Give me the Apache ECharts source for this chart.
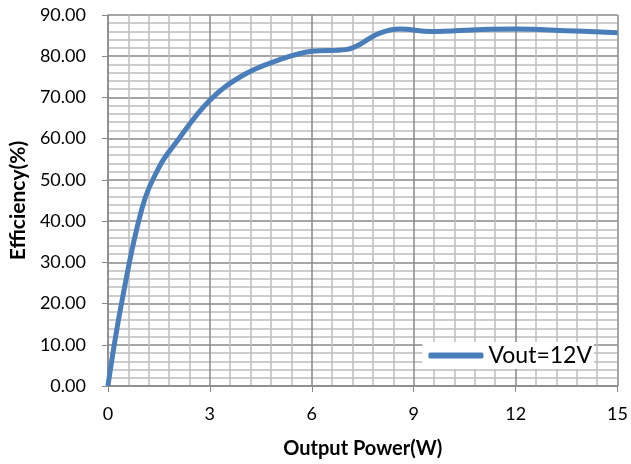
<!DOCTYPE html>
<html><head><meta charset="utf-8">
<script src="https://cdn.jsdelivr.net/npm/echarts@6/dist/echarts.min.js"></script>
<style>html,body{margin:0;padding:0;background:#fff}#c{width:631px;height:464px}</style>
</head><body><div id="c"></div>
<script>
const power = [0, 0.4, 1, 1.5, 2, 3, 4, 5, 6, 7, 8, 8.6, 9.5, 11, 12, 13.5, 15];
const efficiency = [0, 20, 43, 53, 59, 69.3, 75.5, 79, 81.2, 81.6, 85.6, 86.6, 86.0, 86.5, 86.6, 86.2, 85.7];
const seriesName = 'Vout=12V';
const xTicks = [0, 3, 6, 9, 12, 15];

const chart = echarts.init(document.getElementById('c'));
const font = 'Lato, "Open Sans", sans-serif';
chart.setOption({
  animation: false,
  backgroundColor: '#fff',
  grid: {left: 107, right: 11, top: 15, bottom: 77},
  legend: {
    data: [seriesName], right: 37, bottom: 95, itemWidth: 55, itemHeight: 6,
    backgroundColor: '#fff', padding: [2, 2, 2, 6], itemGap: 4,
    icon: 'roundRect',
    textStyle: {fontSize: 23, color: '#000', fontFamily: font, padding: [0, 0, 0, 0]}
  },
  xAxis: {
    type: 'value', min: 0, max: 15, interval: 3,
    name: 'Output Power(W)', nameLocation: 'middle', nameGap: 53,
    nameTextStyle: {fontSize: 20, fontWeight: 'bold', color: '#000', fontFamily: font},
    axisLine: {show: true, lineStyle: {color: '#888', width: 1.5}},
    axisTick: {show: true, length: 6, lineStyle: {color: '#888'}},
    axisLabel: {fontSize: 18, color: '#000', margin: 19, fontFamily: font},
    minorTick: {show: true, splitNumber: 5, length: 0},
    splitLine: {show: true, lineStyle: {color: '#888', width: 1.5}},
    minorSplitLine: {show: true, lineStyle: {color: '#bdbdbd', width: 1.5}}
  },
  yAxis: {
    type: 'value', min: 0, max: 90, interval: 10,
    name: 'Efficiency(%)', nameLocation: 'middle', nameGap: 77, nameRotate: 90,
    nameTextStyle: {fontSize: 21, fontWeight: 'bold', color: '#000', fontFamily: font},
    axisLine: {show: true, lineStyle: {color: '#888', width: 1.5}},
    axisTick: {show: true, length: 6, lineStyle: {color: '#888'}},
    axisLabel: {fontSize: 18, color: '#000', margin: 22, fontFamily: font,
      formatter: v => v.toFixed(2)},
    minorTick: {show: true, splitNumber: 5, length: 0},
    splitLine: {show: true, lineStyle: {color: '#888', width: 1.5}},
    minorSplitLine: {show: true, lineStyle: {color: '#bdbdbd', width: 1.5}}
  },
  series: [{
    name: seriesName, type: 'line', smooth: 0.4, showSymbol: false,
    data: power.map((p, i) => [p, efficiency[i]]),
    lineStyle: {color: '#4a7ebb', width: 5},
    itemStyle: {color: '#4a7ebb'}
  }]
});
</script></body></html>
